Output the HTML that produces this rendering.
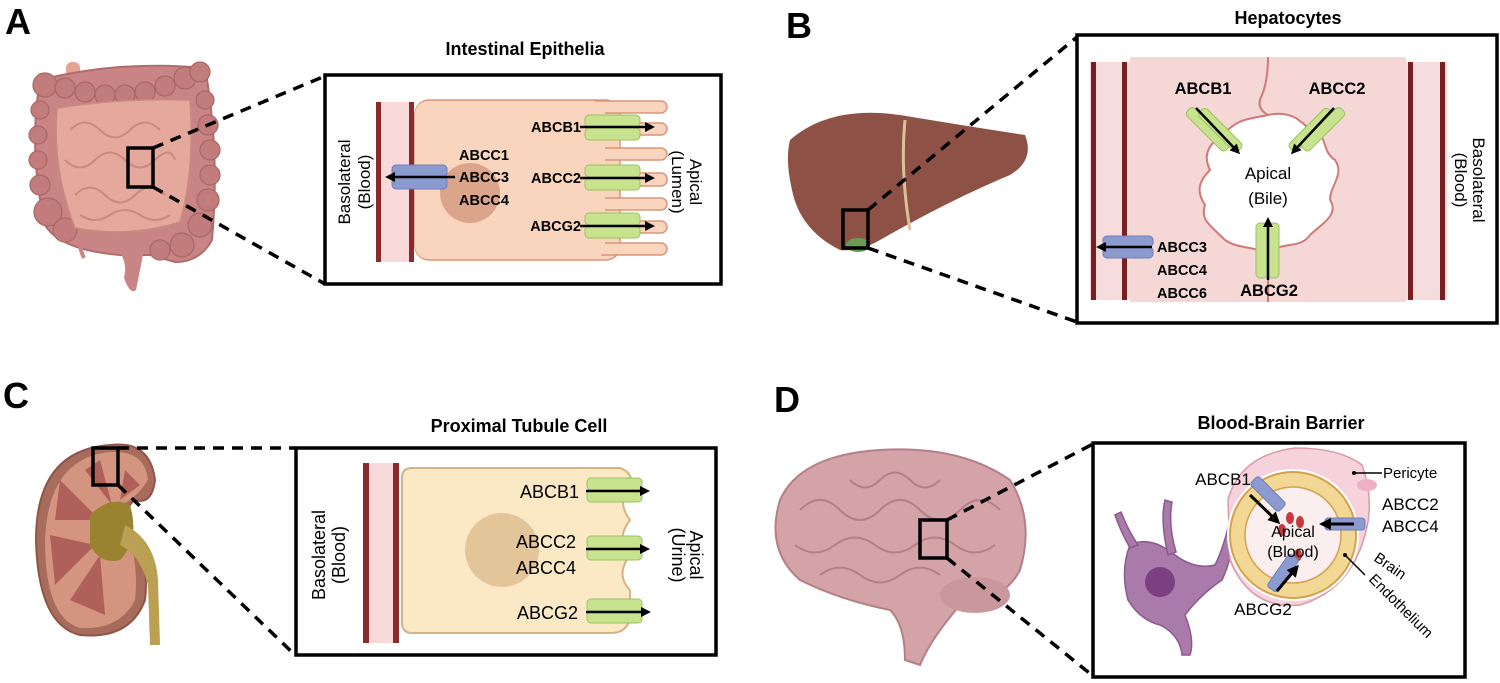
<!DOCTYPE html>
<html><head><meta charset="utf-8"><style>
html,body{margin:0;padding:0;background:#fff}
svg{display:block}
text{font-family:"Liberation Sans",Arial,sans-serif}
.b{font-weight:bold}
</style></head><body>
<svg width="1500" height="683" viewBox="0 0 1500 683" xmlns="http://www.w3.org/2000/svg">
<defs>
<marker id="ar" markerWidth="10" markerHeight="10" refX="7" refY="5" orient="auto" markerUnits="userSpaceOnUse"><path d="M0,0 L10,5 L0,10 z" fill="#000"/></marker>
<marker id="ar2" markerWidth="12" markerHeight="12" refX="9" refY="6" orient="auto" markerUnits="userSpaceOnUse"><path d="M0,0 L12,6 L0,12 z" fill="#000"/></marker>
</defs>

<text x="5" y="34" font-size="36" class="b">A</text>
<text x="786" y="38" font-size="36" class="b">B</text>
<text x="3" y="408" font-size="36" class="b">C</text>
<text x="774" y="412" font-size="36" class="b">D</text>

<!-- ===== A: intestine ===== -->
<rect x="66" y="62" width="14" height="40" rx="6" fill="#e4a394"/>
<path d="M40,80 Q120,60 205,68 Q220,150 212,240 Q200,262 175,262 L150,255 L120,255 Q60,250 45,225 Q28,150 40,80z" fill="#c98585" stroke="#b06d6d" stroke-width="2"/>
<g fill="#c27c7c" stroke="#a86767" stroke-width="1.2">
<circle cx="45" cy="85" r="12"/><circle cx="65" cy="88" r="10"/><circle cx="85" cy="92" r="10"/><circle cx="105" cy="95" r="10"/><circle cx="125" cy="95" r="10"/><circle cx="145" cy="92" r="10"/><circle cx="165" cy="86" r="10"/><circle cx="185" cy="78" r="11"/><circle cx="200" cy="72" r="10"/>
<circle cx="40" cy="110" r="9"/><circle cx="38" cy="135" r="9"/><circle cx="38" cy="160" r="9"/><circle cx="40" cy="185" r="10"/><circle cx="48" cy="212" r="14"/><circle cx="65" cy="230" r="12"/>
<circle cx="205" cy="100" r="9"/><circle cx="208" cy="125" r="10"/><circle cx="210" cy="150" r="10"/><circle cx="210" cy="175" r="10"/><circle cx="208" cy="200" r="11"/><circle cx="200" cy="225" r="12"/><circle cx="182" cy="245" r="12"/><circle cx="160" cy="250" r="10"/>
</g>
<path d="M57,108 Q120,98 190,100 Q195,170 180,222 Q130,238 75,228 Q52,170 57,108z" fill="#e5a89c" stroke="#c98a80" stroke-width="1.5"/>
<g fill="none" stroke="#c98a80" stroke-width="2">
<path d="M70,130 q15,-15 30,0 t30,0 t30,0"/><path d="M65,160 q15,15 30,0 t30,0 t30,0 t20,0"/><path d="M75,195 q15,-15 30,0 t30,0 t30,0"/><path d="M80,215 q15,10 30,0 t30,0 t30,0"/>
</g>
<path d="M118,250 Q128,262 124,278 Q130,295 136,290 Q140,270 144,250z" fill="#c98585"/>
<path d="M78,235 Q80,250 84,258" stroke="#c98585" stroke-width="4" fill="none"/>
<rect x="128" y="148" width="25" height="39" fill="none" stroke="#000" stroke-width="3.5"/>
<g stroke="#000" stroke-width="3.5" stroke-dasharray="11,8" fill="none">
<line x1="153" y1="148" x2="325" y2="76"/><line x1="153" y1="187" x2="325" y2="284"/>
</g>
<text x="525" y="55" font-size="18" class="b" text-anchor="middle">Intestinal Epithelia</text>
<rect x="325" y="75" width="396" height="209" fill="#fff" stroke="#000" stroke-width="3.5"/>
<rect x="378" y="102" width="34" height="160" fill="#f8dadb"/>
<rect x="376" y="102" width="5" height="160" fill="#8a2a2a"/><rect x="409" y="102" width="5" height="160" fill="#8a2a2a"/>
<g fill="#f9d5bd" stroke="#d9957a" stroke-width="1.5">
<rect x="415" y="100" width="205" height="160" rx="14"/>
<rect x="590" y="101" width="77" height="12" rx="6"/><rect x="590" y="123" width="77" height="12" rx="6"/>
<rect x="590" y="148" width="77" height="12" rx="6"/><rect x="590" y="173" width="77" height="13" rx="6"/>
<rect x="590" y="198" width="77" height="12" rx="6"/><rect x="590" y="221" width="77" height="12" rx="6"/>
<rect x="590" y="243" width="77" height="12" rx="6"/>
</g>
<rect x="415" y="101" width="190" height="158" rx="13" fill="#f9d5bd"/>
<circle cx="470" cy="193" r="30" fill="#dba58b"/>
<g fill="#c8e38e" stroke="#9cc060" stroke-width="1">
<rect x="585" y="115" width="55" height="12" rx="4"/><rect x="585" y="128" width="55" height="12" rx="4"/>
<rect x="585" y="165" width="55" height="12" rx="4"/><rect x="585" y="178" width="55" height="12" rx="4"/>
<rect x="585" y="213" width="55" height="12" rx="4"/><rect x="585" y="226" width="55" height="12" rx="4"/>
</g>
<g fill="#8b9acf" stroke="#6f7fb8"><rect x="392" y="165" width="55" height="12" rx="4"/><rect x="392" y="177" width="55" height="12" rx="4"/></g>
<g stroke="#000" stroke-width="2.5" marker-end="url(#ar)">
<line x1="580" y1="127" x2="652" y2="127"/><line x1="580" y1="178" x2="652" y2="178"/><line x1="580" y1="226" x2="652" y2="226"/>
<line x1="455" y1="177" x2="388" y2="177"/>
</g>
<g font-size="14.5" class="b">
<text x="581" y="132" text-anchor="end">ABCB1</text><text x="581" y="183" text-anchor="end">ABCC2</text><text x="581" y="231" text-anchor="end">ABCG2</text>
<text x="459" y="160">ABCC1</text><text x="459" y="182">ABCC3</text><text x="459" y="205">ABCC4</text>
</g>
<g font-size="17">
<text transform="translate(350,182) rotate(-90)" text-anchor="middle">Basolateral</text>
<text transform="translate(370,182) rotate(-90)" text-anchor="middle">(Blood)</text>
<text transform="translate(690,182) rotate(90)" text-anchor="middle">Apical</text>
<text transform="translate(672,182) rotate(90)" text-anchor="middle">(Lumen)</text>
</g>

<!-- ===== B: liver ===== -->
<path d="M790,140 Q830,105 900,115 Q960,125 1025,135 Q1035,160 1010,175 Q950,200 880,240 Q860,252 840,250 Q800,230 792,190 Q785,160 790,140z" fill="#8e5146"/>
<path d="M905,120 Q900,170 910,230" stroke="#d9c29a" stroke-width="3" fill="none"/>
<ellipse cx="858" cy="245" rx="12" ry="7" fill="#6a9a58"/>
<rect x="843" y="210" width="25" height="38" fill="none" stroke="#000" stroke-width="3.5"/>
<g stroke="#000" stroke-width="3.5" stroke-dasharray="11,8" fill="none">
<line x1="868" y1="210" x2="1077" y2="37"/><line x1="868" y1="248" x2="1077" y2="322"/>
</g>
<text x="1288" y="24" font-size="18" class="b" text-anchor="middle">Hepatocytes</text>
<rect x="1077" y="35" width="420" height="288" fill="#fff" stroke="#000" stroke-width="3.5"/>
<rect x="1090" y="62" width="357" height="238" fill="#f6dcdc"/>
<rect x="1130" y="57" width="276" height="245" fill="#f5d8d6"/>
<rect x="1091" y="62" width="5" height="238" fill="#7a1f1f"/><rect x="1122" y="62" width="5" height="238" fill="#7a1f1f"/>
<rect x="1408" y="62" width="5" height="238" fill="#7a1f1f"/><rect x="1440" y="62" width="5" height="238" fill="#7a1f1f"/>
<path d="M1268,57 Q1268,80 1262,95 Q1255,108 1268,115" stroke="#d07a78" stroke-width="2" fill="none"/>
<path d="M1268,302 L1268,260" stroke="#d07a78" stroke-width="2"/>
<path d="M1268,115 C1290,110 1300,120 1310,130 C1330,135 1320,150 1335,160 C1345,175 1330,185 1330,200 C1340,215 1320,225 1310,235 C1300,250 1280,240 1268,255 C1255,245 1240,250 1225,240 C1210,225 1200,220 1205,205 C1195,190 1200,180 1210,170 C1200,150 1215,140 1228,130 C1240,118 1255,118 1268,115z" fill="#fff" stroke="#d07a78" stroke-width="2"/>
<g fill="#c8e38e" stroke="#9cc060">
<rect x="1203" y="102" width="11" height="55" rx="4" transform="rotate(-45 1208 130)"/><rect x="1215" y="102" width="11" height="55" rx="4" transform="rotate(-45 1221 130)"/>
<rect x="1305" y="102" width="11" height="55" rx="4" transform="rotate(45 1310 130)"/><rect x="1317" y="102" width="11" height="55" rx="4" transform="rotate(45 1323 130)"/>
<rect x="1256" y="223" width="11" height="55" rx="4"/><rect x="1268" y="223" width="11" height="55" rx="4"/>
</g>
<g fill="#8b9acf" stroke="#6f7fb8"><rect x="1103" y="236" width="50" height="11" rx="4"/><rect x="1103" y="247" width="50" height="11" rx="4"/></g>
<g stroke="#000" stroke-width="2.5" marker-end="url(#ar)">
<line x1="1196" y1="108" x2="1238" y2="152"/><line x1="1334" y1="108" x2="1293" y2="152"/>
<line x1="1268" y1="280" x2="1268" y2="220"/><line x1="1152" y1="247" x2="1099" y2="247"/>
</g>
<g font-size="16.5" class="b">
<text x="1203" y="94" text-anchor="middle">ABCB1</text><text x="1337" y="94" text-anchor="middle">ABCC2</text>
<text x="1269" y="296" text-anchor="middle">ABCG2</text>
</g>
<g font-size="14.5" class="b"><text x="1157" y="252">ABCC3</text><text x="1157" y="275">ABCC4</text><text x="1157" y="298">ABCC6</text></g>
<g font-size="17" text-anchor="middle"><text x="1268" y="179">Apical</text><text x="1268" y="204">(Bile)</text>
<text transform="translate(1473,180) rotate(90)">Basolateral</text><text transform="translate(1455,180) rotate(90)">(Blood)</text></g>

<!-- ===== C: kidney ===== -->
<path d="M110,445 Q150,440 155,480 Q152,505 135,500 Q120,510 130,540 Q150,560 145,600 Q130,640 80,635 Q38,625 36,540 Q36,450 110,445z" fill="#a86c5c" stroke="#8d5648" stroke-width="2"/>
<path d="M110,452 Q145,450 148,480 Q135,500 120,505 Q140,560 135,600 Q120,630 80,628 Q45,618 45,540 Q48,458 110,452z" fill="#d49580"/>
<g fill="#b0605a"><path d="M60,480 L100,520 L55,520z"/><path d="M50,535 L95,545 L55,585z"/><path d="M70,600 L100,555 L105,615z"/><path d="M100,460 L112,505 L85,470z"/><path d="M125,470 L120,500 L140,485z"/></g>
<path d="M90,515 Q110,495 130,505 Q140,540 120,560 Q100,565 90,545z" fill="#9a8330"/>
<path d="M125,525 Q155,540 158,580 L160,645 L150,645 L148,585 Q140,555 120,545z" fill="#b9a052"/>
<rect x="93" y="448" width="25" height="37" fill="none" stroke="#000" stroke-width="3.5"/>
<g stroke="#000" stroke-width="3.5" stroke-dasharray="11,8" fill="none">
<line x1="118" y1="448" x2="295" y2="448"/><line x1="118" y1="485" x2="295" y2="655"/>
</g>
<text x="519" y="432" font-size="18" class="b" text-anchor="middle">Proximal Tubule Cell</text>
<rect x="296" y="448" width="420" height="207" fill="#fff" stroke="#000" stroke-width="3.5"/>
<rect x="366" y="463" width="30" height="180" fill="#f8dadb"/>
<rect x="363" y="463" width="6" height="180" fill="#8a2a2a"/><rect x="393" y="463" width="6" height="180" fill="#8a2a2a"/>
<path d="M412,468 L620,468 Q632,472 632,485 Q615,500 630,520 Q615,540 630,555 Q615,575 630,590 L630,620 Q625,633 612,633 L412,633 Q402,633 402,622 L402,478 Q402,468 412,468z" fill="#fbe8c5" stroke="#d6b386" stroke-width="2"/>
<circle cx="502" cy="550" r="37" fill="#e3c59a"/>
<g fill="#c8e38e" stroke="#9cc060">
<rect x="587" y="478" width="55" height="12" rx="4"/><rect x="587" y="490" width="55" height="12" rx="4"/>
<rect x="587" y="536" width="55" height="12" rx="4"/><rect x="587" y="548" width="55" height="12" rx="4"/>
<rect x="587" y="599" width="55" height="12" rx="4"/><rect x="587" y="611" width="55" height="12" rx="4"/>
</g>
<g stroke="#000" stroke-width="2.5" marker-end="url(#ar)">
<line x1="586" y1="491" x2="647" y2="491"/><line x1="586" y1="549" x2="647" y2="549"/><line x1="586" y1="612" x2="648" y2="612"/>
</g>
<g font-size="18"><text x="579" y="498" text-anchor="end">ABCB1</text><text x="576" y="548" text-anchor="end">ABCC2</text><text x="576" y="574" text-anchor="end">ABCC4</text><text x="578" y="619" text-anchor="end">ABCG2</text>
<text transform="translate(325,555) rotate(-90)" text-anchor="middle">Basolateral</text><text transform="translate(345,555) rotate(-90)" text-anchor="middle">(Blood)</text>
<text transform="translate(690,555) rotate(90)" text-anchor="middle">Apical</text><text transform="translate(672,555) rotate(90)" text-anchor="middle">(Urine)</text></g>

<!-- ===== D: brain ===== -->
<path d="M780,500 Q800,455 880,450 Q960,445 1010,480 Q1035,520 1020,570 Q1005,600 960,605 Q930,640 920,665 L905,660 Q905,625 890,610 Q840,600 800,580 Q765,550 780,500z" fill="#d3a3a8" stroke="#b57f86" stroke-width="2"/>
<g fill="none" stroke="#b57f86" stroke-width="2"><path d="M800,510 q20,-20 40,0 t40,0 t40,0 t40,0 t40,0"/><path d="M795,545 q20,15 40,0 t40,0 t40,0 t40,0 t40,0"/><path d="M820,575 q20,-15 40,0 t40,0 t40,0"/><path d="M850,480 q15,15 30,0 t30,0 t30,0"/></g>
<ellipse cx="975" cy="595" rx="35" ry="18" fill="#c9979c"/>
<rect x="920" y="520" width="27" height="38" fill="none" stroke="#000" stroke-width="3.5"/>
<g stroke="#000" stroke-width="3.5" stroke-dasharray="11,8" fill="none">
<line x1="947" y1="520" x2="1093" y2="444"/><line x1="947" y1="558" x2="1093" y2="676"/>
</g>
<text x="1281" y="429" font-size="18" class="b" text-anchor="middle">Blood-Brain Barrier</text>
<rect x="1093" y="443" width="372" height="234" fill="#fff" stroke="#000" stroke-width="3.5"/>
<g fill="#a97aaa" stroke="#8a5a8c" stroke-width="1.5">
<path d="M1130,545 Q1150,535 1175,555 Q1195,570 1215,565 Q1225,545 1232,510 L1238,515 Q1232,560 1222,580 Q1200,595 1185,615 Q1195,640 1190,655 L1182,655 Q1180,635 1160,625 Q1140,620 1128,600 Q1120,570 1130,545z"/>
<path d="M1130,548 Q1120,530 1115,515 L1121,512 Q1128,530 1138,545z"/>
<path d="M1168,555 Q1160,520 1165,500 L1172,502 Q1168,525 1176,552z"/>
</g>
<circle cx="1160" cy="582" r="15" fill="#7c3f82"/>
<path d="M1228,500 Q1240,455 1295,448 Q1340,448 1362,465 Q1375,500 1365,535 Q1350,590 1300,605 Q1250,610 1230,560z" fill="#f6d3dc" stroke="#d99aaa" stroke-width="1.5"/>
<ellipse cx="1367" cy="485" rx="10" ry="6" fill="#eeb0c4"/>
<circle cx="1293" cy="535" r="66" fill="#fff"/>
<circle cx="1293" cy="535" r="63" fill="#f3d895" stroke="#d4a14f" stroke-width="2"/>
<circle cx="1293" cy="535" r="48" fill="#fbeeee" stroke="#d4a14f" stroke-width="1.5"/>
<g fill="#c8383f"><ellipse cx="1290" cy="518" rx="4" ry="6"/><ellipse cx="1300" cy="522" rx="4" ry="6"/><ellipse cx="1282" cy="530" rx="4" ry="6"/><ellipse cx="1298" cy="555" rx="4" ry="6"/></g>
<g fill="#8b9acf" stroke="#6f7fb8">
<rect x="1248" y="488" width="40" height="12" rx="3" transform="rotate(45 1268 494)"/>
<rect x="1325" y="518" width="40" height="12" rx="3"/>
<rect x="1263" y="567" width="40" height="12" rx="3" transform="rotate(-55 1283 573)"/>
</g>
<g stroke="#000" stroke-width="3" marker-end="url(#ar2)">
<line x1="1250" y1="495" x2="1278" y2="522"/><line x1="1354" y1="524" x2="1322" y2="524"/><line x1="1277" y1="591" x2="1297" y2="567"/>
</g>
<line x1="1355" y1="473" x2="1382" y2="473" stroke="#000" stroke-width="1.5"/><circle cx="1354" cy="473" r="2" fill="#000"/>
<line x1="1345" y1="555" x2="1365" y2="575" stroke="#000" stroke-width="1.5"/><circle cx="1345" cy="555" r="2" fill="#000"/>
<g font-size="17">
<text x="1223" y="485" text-anchor="middle">ABCB1</text><text x="1382" y="510">ABCC2</text><text x="1382" y="532">ABCC4</text>
<text x="1263" y="615" text-anchor="middle">ABCG2</text>
<text x="1293" y="537" text-anchor="middle" font-size="16">Apical</text><text x="1293" y="557" text-anchor="middle" font-size="16">(Blood)</text>
<text x="1383" y="478" font-size="15">Pericyte</text>
<text transform="translate(1373,560) rotate(35)" font-size="15">Brain</text>
<text transform="translate(1368,580) rotate(45)" font-size="15">Endothelium</text>
</g>
</svg>
</body></html>
